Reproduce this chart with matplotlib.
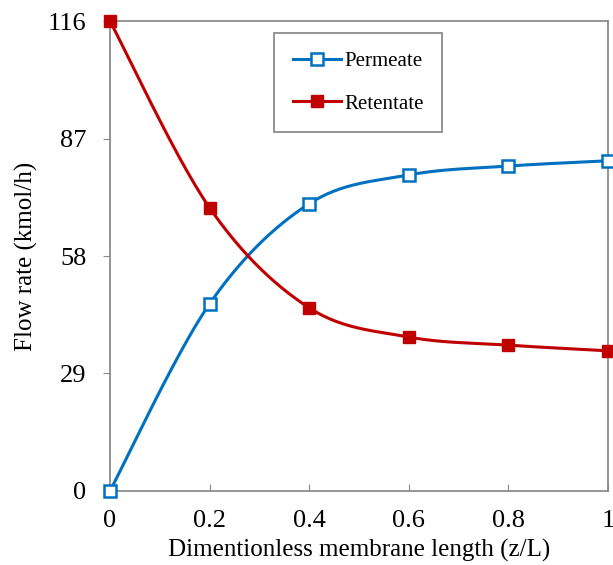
import numpy as np
import matplotlib.pyplot as plt

# data
zL = [0, 0.2, 0.4, 0.6, 0.8, 1.0]
permeate = [0, 46.2, 70.9, 78.0, 80.2, 81.5]
retentate = [116, 69.9, 45.2, 38.0, 36.0, 34.6]
yticks = [0, 29, 58, 87, 116]
xticks = [0, 0.2, 0.4, 0.6, 0.8, 1.0]
xticklabels = ['0', '0.2', '0.4', '0.6', '0.8', '1']

blue = '#0070C0'
red = '#C00000'


def smoothLine(x, y, n=30):
    # Excel-like smoothed line (Catmull-Rom / cubic Bezier through the points)
    x = np.asarray(x, float)
    y = np.asarray(y, float)
    px = np.concatenate([[x[0]], x, [x[-1]]])
    py = np.concatenate([[y[0]], y, [y[-1]]])
    t = np.linspace(0, 1, n)
    xs, ys = [], []
    for i in range(1, len(px) - 2):
        p0 = np.array([px[i], py[i]])
        p3 = np.array([px[i + 1], py[i + 1]])
        c1 = p0 + (p3 - np.array([px[i - 1], py[i - 1]])) / 6.
        c2 = p3 - (np.array([px[i + 2], py[i + 2]]) - p0) / 6.
        b = ((1 - t) ** 3)[:, None] * p0 + (3 * (1 - t) ** 2 * t)[:, None] * c1 \
            + (3 * (1 - t) * t ** 2)[:, None] * c2 + (t ** 3)[:, None] * p3
        xs.append(b[:, 0])
        ys.append(b[:, 1])
    return np.concatenate(xs), np.concatenate(ys)


plt.rcParams['font.family'] = 'Liberation Serif'

fig = plt.figure(figsize=(6.13, 5.65), dpi=100)
ax = fig.add_axes([0.1794, 0.131, 0.8124, 0.8318])

ms = 9
sx, sy = smoothLine(zL, permeate)
ax.plot(sx, sy, color=blue, lw=2.2, zorder=3, clip_on=False)
ax.plot(zL, permeate, ls='none', marker='s', ms=ms, mfc='white', mec=blue, mew=1.8, zorder=4, clip_on=False)
ax.plot([], [], color=blue, lw=2.2, marker='s', ms=ms, mfc='white', mec=blue, mew=1.8, label='Permeate')

sx, sy = smoothLine(zL, retentate)
ax.plot(sx, sy, color=red, lw=2.2, zorder=3, clip_on=False)
ax.plot(zL, retentate, ls='none', marker='s', ms=ms, mfc=red, mec=red, zorder=4, clip_on=False)
ax.plot([], [], color=red, lw=2.2, marker='s', ms=ms, mfc=red, mec=red, label='Retentate')

ax.set_xlim(0, 1)
ax.set_ylim(0, 116)
ax.set_xticks(xticks)
ax.set_xticklabels(xticklabels)
ax.set_yticks(yticks)
ax.tick_params(axis='x', direction='in', length=5, color='#888888', labelsize=19, pad=14)
ax.tick_params(axis='y', direction='out', length=5, color='#888888', labelsize=19, pad=12)
for s in ax.spines.values():
    s.set_color('#8c8c8c')
    s.set_linewidth(1.3)

ax.set_xlabel('Dimentionless membrane length (z/L)', fontsize=18, labelpad=5)
ax.set_ylabel('Flow rate (kmol/h)', fontsize=18, labelpad=7)

leg = ax.legend(loc='upper left', bbox_to_anchor=(0.33, 0.975), fontsize=15,
                fancybox=False, framealpha=1, edgecolor='#8c8c8c',
                handlelength=2.3, handletextpad=0.15, labelspacing=1.1,
                borderpad=0.9, borderaxespad=0)
leg.get_frame().set_linewidth(1.3)

fig.savefig('out.png', dpi=100)
